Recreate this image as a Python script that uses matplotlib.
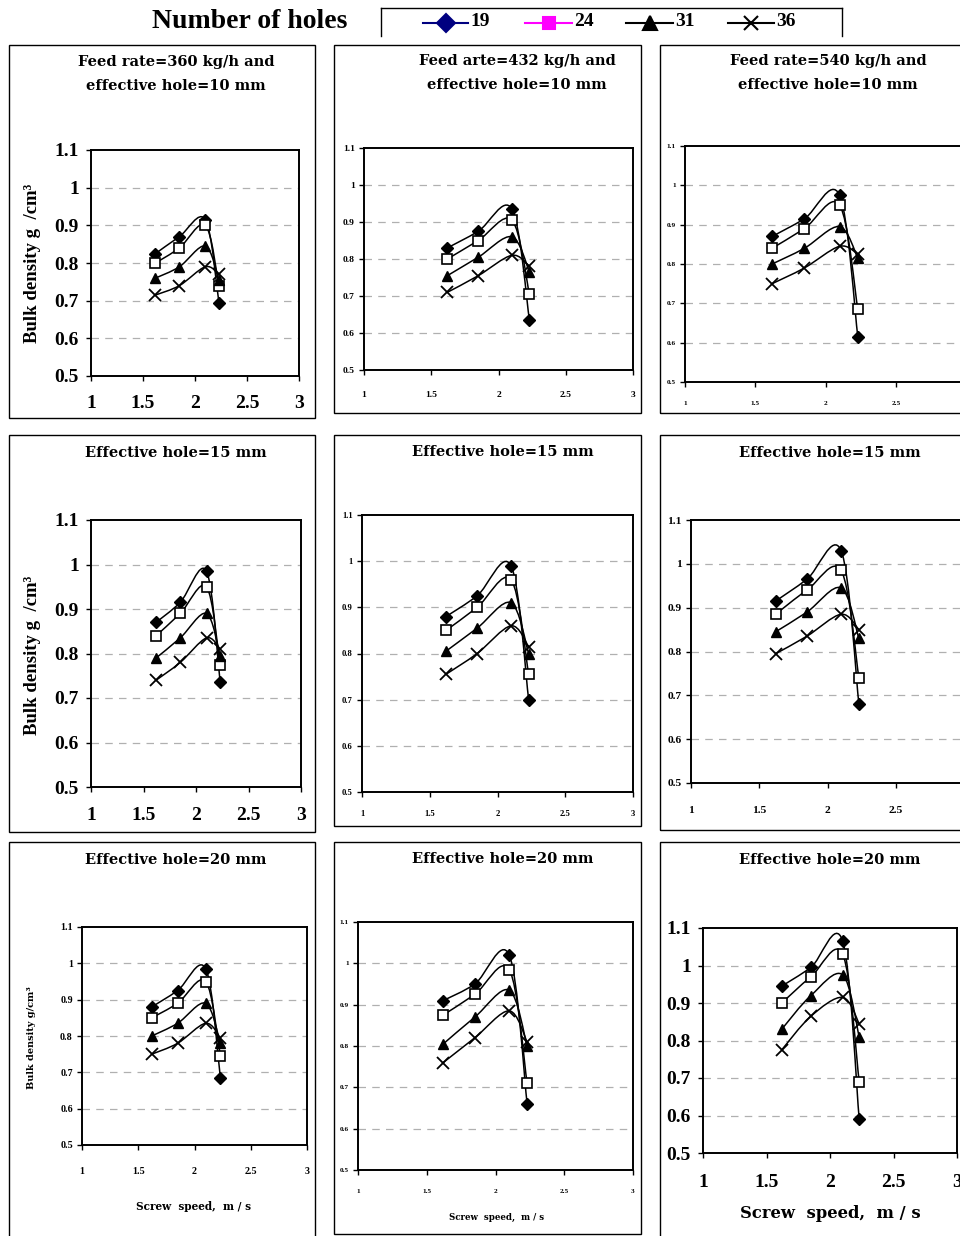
import matplotlib
matplotlib.use('Agg')
import matplotlib.pyplot as plt
from matplotlib.path import Path
from matplotlib.patches import PathPatch, Rectangle
from matplotlib.lines import Line2D

W, H = 960, 1236

# ---------------- data ----------------
screw_speed = [1.62, 1.85, 2.10, 2.23]
holes = ['19', '24', '31', '36']
y_ticks = [0.5, 0.6, 0.7, 0.8, 0.9, 1.0, 1.1]
y_ticklabels = ['0.5', '0.6', '0.7', '0.8', '0.9', '1', '1.1']
x_ticks = [1, 1.5, 2, 2.5, 3]
x_ticklabels = ['1', '1.5', '2', '2.5', '3']

# bulk density (g/cm3) for holes 19, 24, 31, 36
bd_360_10 = [[0.825, 0.870, 0.915, 0.695],
             [0.800, 0.840, 0.900, 0.740],
             [0.760, 0.790, 0.845, 0.755],
             [0.715, 0.740, 0.790, 0.770]]
bd_432_10 = [[0.830, 0.875, 0.935, 0.635],
             [0.800, 0.850, 0.905, 0.705],
             [0.755, 0.805, 0.860, 0.765],
             [0.710, 0.755, 0.810, 0.780]]
bd_540_10 = [[0.870, 0.915, 0.975, 0.615],
             [0.840, 0.890, 0.950, 0.685],
             [0.800, 0.840, 0.895, 0.815],
             [0.750, 0.790, 0.845, 0.825]]
bd_360_15 = [[0.870, 0.915, 0.985, 0.735],
             [0.840, 0.890, 0.950, 0.775],
             [0.790, 0.835, 0.890, 0.795],
             [0.740, 0.780, 0.835, 0.810]]
bd_432_15 = [[0.880, 0.925, 0.990, 0.700],
             [0.850, 0.900, 0.960, 0.755],
             [0.805, 0.855, 0.910, 0.800],
             [0.755, 0.800, 0.860, 0.815]]
bd_540_15 = [[0.915, 0.965, 1.030, 0.680],
             [0.885, 0.940, 0.985, 0.740],
             [0.845, 0.890, 0.945, 0.830],
             [0.795, 0.835, 0.885, 0.850]]
bd_360_20 = [[0.880, 0.925, 0.985, 0.685],
             [0.850, 0.890, 0.950, 0.745],
             [0.800, 0.835, 0.890, 0.780],
             [0.750, 0.780, 0.835, 0.795]]
bd_432_20 = [[0.910, 0.950, 1.020, 0.660],
             [0.875, 0.925, 0.985, 0.710],
             [0.805, 0.870, 0.935, 0.800],
             [0.760, 0.820, 0.885, 0.810]]
bd_540_20 = [[0.945, 0.995, 1.065, 0.590],
             [0.900, 0.970, 1.030, 0.690],
             [0.830, 0.920, 0.975, 0.810],
             [0.775, 0.865, 0.915, 0.845]]

# ---------------- style ----------------
FONT = 'Liberation Serif'
WIDE = 'DejaVu Serif'
plt.rcParams['font.family'] = [FONT, 'DejaVu Serif']
plt.rcParams['font.weight'] = 'bold'
PX = 72 / 100  # points per pixel

marker_styles = [
    dict(marker='D', ms=6.5, mfc='black', mec='black'),
    dict(marker='s', ms=6.5, mfc='white', mec='black', mew=1.2),
    dict(marker='^', ms=7.5, mfc='black', mec='black'),
    dict(marker='x', ms=8.5, mfc='black', mec='black', mew=1.3),
]


def smooth_path(xs, ys):
    pts = list(zip(xs, ys))
    n = len(pts)
    verts = [pts[0]]
    codes = [Path.MOVETO]
    for i in range(n - 1):
        p0 = pts[i - 1] if i > 0 else pts[i]
        p1 = pts[i]
        p2 = pts[i + 1]
        p3 = pts[i + 2] if i + 2 < n else pts[i + 1]
        c1 = (p1[0] + (p2[0] - p0[0]) / 6, p1[1] + (p2[1] - p0[1]) / 6)
        c2 = (p2[0] - (p3[0] - p1[0]) / 6, p2[1] - (p3[1] - p1[1]) / 6)
        verts += [c1, c2, p2]
        codes += [Path.CURVE4] * 3
    return Path(verts, codes)


def frac_rect(x0, y0, x1, y1):
    return [x0 / W, 1 - y1 / H, (x1 - x0) / W, (y1 - y0) / H]


fig = plt.figure(figsize=(W / 100, H / 100), dpi=100)

# panel specs: data, box, axes, tick fontsize, x-label offset(px), show last x label,
# title lines, title x, title y's
panels = [
    (bd_360_10, (9, 45, 315, 418), (91, 150, 299, 376), 14, 30, True,
     ['Feed rate=360 kg/h and', 'effective hole=10 mm'], 176, [62, 86]),
    (bd_432_10, (334, 45, 641, 413), (364, 148, 633, 370), 6.8, 28, True,
     ['Feed arte=432 kg/h and', 'effective hole=10 mm'], 517, [61, 85]),
    (bd_540_10, (660, 45, 990, 413), (685, 146, 966, 382), 5.2, 26, False,
     ['Feed rate=540 kg/h and', 'effective hole=10 mm'], 828, [61, 85]),
    (bd_360_15, (9, 435, 315, 832), (91, 520, 301, 787), 14, 31, True,
     ['Effective hole=15 mm'], 176, [453]),
    (bd_432_15, (334, 435, 641, 826), (362, 515, 633, 792), 6.2, 25, True,
     ['Effective hole=15 mm'], 503, [452]),
    (bd_540_15, (660, 435, 990, 830), (691, 520, 964, 783), 8.2, 31, False,
     ['Effective hole=15 mm'], 830, [453]),
    (bd_360_20, (9, 842, 315, 1250), (82, 927, 307, 1145), 7.2, 30, True,
     ['Effective hole=20 mm'], 176, [860]),
    (bd_432_20, (334, 842, 641, 1234), (358, 922, 633, 1170), 5.2, 26, True,
     ['Effective hole=20 mm'], 503, [859]),
    (bd_540_20, (660, 842, 990, 1250), (703, 928, 957, 1153), 14, 32, True,
     ['Effective hole=20 mm'], 830, [860]),
]

TICK_LEN_PX = 5

for data, box, axr, tfs, xoff, show_last, tlines, tx, tys in panels:
    bx0, by0, bx1, by1 = box
    fig.patches.append(Rectangle((bx0 / W, 1 - by1 / H), (bx1 - bx0) / W,
                                 (by1 - by0) / H, transform=fig.transFigure,
                                 fill=False, ec='black', lw=1.0, zorder=0))
    for line, ty in zip(tlines, tys):
        fig.text(tx / W, 1 - ty / H, line, ha='center', va='center',
                 fontsize=10.5, fontweight='bold', family=WIDE)
    ax = fig.add_axes(frac_rect(*axr))
    ax.set_xlim(1, 3)
    ax.set_ylim(0.5, 1.1)
    ax.set_yticks(y_ticks)
    ax.set_yticklabels(y_ticklabels, fontsize=tfs, fontweight='bold')
    ax.set_xticks(x_ticks)
    xl = list(x_ticklabels) if show_last else x_ticklabels[:-1] + ['']
    ax.set_xticklabels(xl, fontsize=tfs, fontweight='bold')
    fs_px = tfs / PX
    xpad_px = max(xoff - TICK_LEN_PX - 0.345 * fs_px - 4.2, 1)
    ax.tick_params(direction='out', length=TICK_LEN_PX * PX, width=1.0)
    ax.tick_params(axis='y', pad=5 if tfs > 10 else 3)
    ax.tick_params(axis='x', pad=xpad_px * PX)
    for g in y_ticks[1:-1]:
        ax.axhline(g, color='#b0b0b0', lw=0.9, ls=(0, (6, 5)), zorder=1)
    for s in ax.spines.values():
        s.set_linewidth(1.4)
    for series, ms in zip(data, marker_styles):
        ax.add_patch(PathPatch(smooth_path(screw_speed, series), fill=False,
                               ec='black', lw=1.1, zorder=2))
        ax.plot(screw_speed, series, ls='none', zorder=3, **ms)

# axis labels
for yc in (263, 655):
    fig.text(33 / W, 1 - yc / H, 'Bulk density g  /cm³', rotation=90,
             ha='center', va='center', fontsize=13.5, fontweight='bold', family=FONT)
fig.text(32 / W, 1 - 1038 / H, 'Bulk density g/cm³', rotation=90,
         ha='center', va='center', fontsize=7, fontweight='bold', family=WIDE)
fig.text(194 / W, 1 - 1207 / H, 'Screw  speed,  m / s', ha='center', va='center',
         fontsize=7.6, fontweight='bold', family=WIDE)
fig.text(497 / W, 1 - 1217 / H, 'Screw  speed,  m / s', ha='center', va='center',
         fontsize=6.2, fontweight='bold', family=WIDE)
fig.text(830 / W, 1 - 1213 / H, 'Screw  speed,  m / s', ha='center', va='center',
         fontsize=11.8, fontweight='bold', family=WIDE)

# header legend
fig.text(250 / W, 1 - 22 / H, 'Number of holes', ha='center', va='center',
         fontsize=20, fontweight='bold', family=FONT)
for xs, ys in [((381, 381), (36, 8)), ((381, 842), (8, 8)), ((842, 842), (8, 36))]:
    fig.add_artist(Line2D([x / W for x in xs], [1 - y / H for y in ys],
                          transform=fig.transFigure, color='black', lw=1.0))
leg_colors = ['#000080', '#ff00ff', 'black', 'black']
leg_markers = ['D', 's', '^', 'x']
leg_sizes = [9, 8.5, 9.5, 10]
leg_x = [(423, 468), (525, 572), (626, 673), (728, 774)]
for (x0, x1), c, m, sz, lab in zip(leg_x, leg_colors, leg_markers, leg_sizes, holes):
    fig.add_artist(Line2D([x0 / W, x1 / W], [1 - 23 / H, 1 - 23 / H],
                          transform=fig.transFigure, color=c, lw=1.5))
    fig.add_artist(Line2D([(x0 + x1) / 2 / W], [1 - 23 / H], transform=fig.transFigure,
                          color=c, marker=m, ms=sz, mfc=c, mec=c, mew=1.5, ls='none'))
    fig.text((x1 + 2) / W, 1 - 21 / H, lab, ha='left', va='center',
             fontsize=14, fontweight='bold', family=FONT)

fig.savefig('out.png', dpi=100)
